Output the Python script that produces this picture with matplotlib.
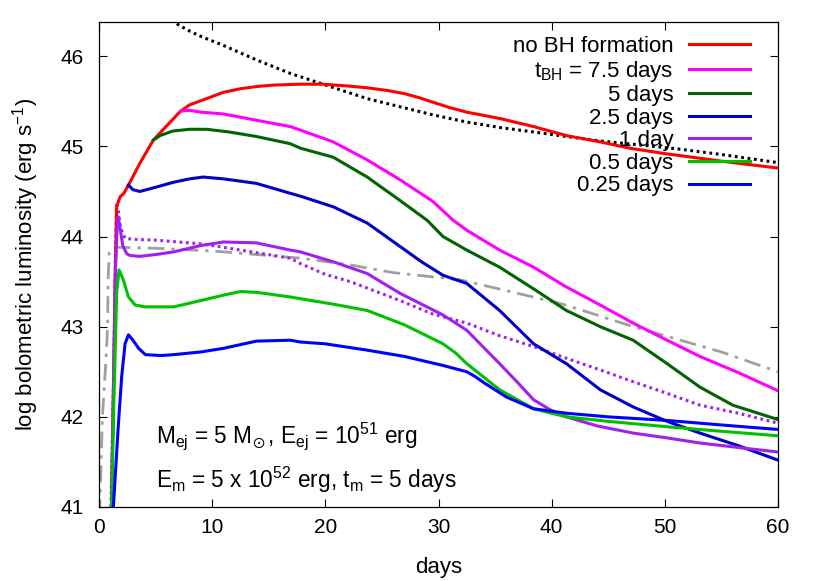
import matplotlib
matplotlib.use("Agg")
import matplotlib.pyplot as plt

plt.rcParams['font.family'] = ['Liberation Sans', 'DejaVu Sans']
plt.rcParams['mathtext.fontset'] = 'custom'
plt.rcParams['mathtext.rm'] = 'Liberation Sans'
plt.rcParams['mathtext.it'] = 'Liberation Sans:italic'
plt.rcParams['mathtext.bf'] = 'Liberation Sans:bold'
plt.rcParams['mathtext.fallback'] = 'stix'

# ---------------- data ----------------
t_red = [1.1, 1.3, 1.45, 1.56, 1.86, 2.2, 2.6, 3.6, 4.8, 6.0, 7.2, 8.0, 9.5, 11.0, 12.5,
         14.0, 15.4, 17.7, 19.8, 22.0, 23.7, 25.5, 27.0, 28.3, 29.5, 31.0, 32.5, 35.4, 38.4,
         41.3, 44.3, 46.9, 50.0, 53.0, 56.0, 60.0]
L_red = [41.0, 42.5, 43.7, 44.33, 44.44, 44.48, 44.57, 44.81, 45.07, 45.23, 45.39, 45.46,
         45.53, 45.60, 45.64, 45.665, 45.68, 45.69, 45.69, 45.67, 45.65, 45.62, 45.585, 45.54,
         45.49, 45.43, 45.38, 45.31, 45.22, 45.12, 45.05, 44.98, 44.92, 44.87, 44.82, 44.76]

t_75 = [7.2, 8.0, 9.0, 11.0, 13.9, 16.9, 17.8, 20.7, 23.7, 26.6, 29.5, 31.3, 32.5, 35.4,
        38.4, 41.3, 44.3, 47.2, 50.2, 53.1, 56.5, 60.0]
L_75 = [45.39, 45.40, 45.38, 45.36, 45.29, 45.22, 45.18, 45.05, 44.85, 44.63, 44.39, 44.18,
        44.07, 43.85, 43.66, 43.44, 43.24, 43.04, 42.85, 42.67, 42.49, 42.29]

t_5 = [4.8, 5.4, 6.5, 8.0, 9.5, 11.5, 13.9, 16.9, 17.8, 20.7, 23.7, 26.6, 29.0, 30.4, 32.5,
       35.4, 38.4, 41.3, 44.3, 47.2, 50.2, 53.1, 56.0, 60.0]
L_5 = [45.07, 45.12, 45.17, 45.19, 45.19, 45.16, 45.11, 45.03, 44.98, 44.88, 44.66, 44.40,
       44.18, 44.00, 43.85, 43.66, 43.42, 43.18, 43.00, 42.85, 42.59, 42.33, 42.13, 41.97]

t_25 = [2.6, 3.0, 3.6, 5.1, 6.5, 8.0, 9.2, 11.0, 13.9, 16.9, 18.0, 20.7, 23.7, 26.6, 28.5,
        30.4, 32.5, 35.4, 38.4, 41.3, 44.3, 47.2, 50.2, 53.1, 56.5, 60.0]
L_25 = [44.57, 44.52, 44.50, 44.55, 44.60, 44.64, 44.66, 44.64, 44.59, 44.48, 44.44, 44.33,
        44.15, 43.89, 43.72, 43.57, 43.48, 43.18, 42.81, 42.59, 42.30, 42.11, 41.95, 41.82,
        41.68, 41.52]

t_1 = [1.1, 1.3, 1.45, 1.6, 1.7, 1.85, 2.1, 2.45, 2.74, 3.6, 5.0, 6.6, 9.0, 11.0, 13.9, 16.9,
       17.8, 20.7, 23.7, 26.6, 28.5, 30.4, 32.5, 35.4, 37.0, 38.4, 39.85, 41.3, 44.0, 47.2,
       50.0, 53.1, 56.5, 60.0]
L_1 = [41.0, 42.5, 43.6, 44.1, 44.22, 44.1, 43.9, 43.81, 43.79, 43.78, 43.80, 43.83, 43.90,
       43.94, 43.93, 43.85, 43.83, 43.72, 43.59, 43.37, 43.25, 43.13, 42.96, 42.59, 42.38,
       42.19, 42.08, 42.00, 41.90, 41.82, 41.77, 41.71, 41.66, 41.61]

t_05 = [1.12, 1.3, 1.41, 1.56, 1.77, 2.15, 2.6, 3.2, 4.1, 6.6, 9.0, 11.0, 12.5, 14.0, 16.9,
        17.8, 20.7, 23.7, 27.0, 30.4, 31.5, 32.5, 35.4, 38.4, 41.3, 45.0, 50.2, 55.0, 60.0]
L_05 = [41.0, 42.1, 42.63, 43.37, 43.63, 43.52, 43.33, 43.24, 43.22, 43.22, 43.29, 43.35,
        43.39, 43.38, 43.33, 43.31, 43.25, 43.18, 43.02, 42.81, 42.71, 42.59, 42.30, 42.09,
        42.00, 41.95, 41.89, 41.84, 41.79]

t_025 = [1.27, 1.7, 2.0, 2.3, 2.6, 3.0, 3.5, 4.1, 5.5, 6.6, 9.0, 11.0, 13.9, 16.9, 17.8,
         20.0, 23.7, 27.0, 30.4, 32.5, 33.2, 34.0, 36.0, 38.4, 41.3, 45.0, 50.2, 55.0, 60.0]
L_025 = [41.0, 41.89, 42.44, 42.81, 42.91, 42.85, 42.76, 42.69, 42.68, 42.69, 42.72, 42.76,
         42.84, 42.85, 42.83, 42.81, 42.74, 42.67, 42.57, 42.50, 42.45, 42.38, 42.22, 42.09,
         42.04, 42.00, 41.96, 41.91, 41.86]

t_dot = [1.05, 1.3, 1.45, 1.55, 1.7, 1.9, 2.3, 3.0, 5.0, 9.0, 13.0, 16.9, 17.8, 20.0, 22.2,
         26.6, 29.5, 32.5, 35.4, 38.4, 41.3, 44.3, 47.2, 50.2, 53.1, 56.5, 60.0]
L_dot = [41.0, 42.5, 43.8, 44.35, 44.3, 44.1, 43.98, 43.97, 43.96, 43.92, 43.84, 43.76,
         43.70, 43.58, 43.50, 43.29, 43.14, 43.04, 42.90, 42.78, 42.65, 42.52, 42.39, 42.26,
         42.13, 42.04, 41.93]

t_gray = [0.05, 0.3, 0.6, 0.76, 0.8, 0.9, 1.2, 2.0, 5.0, 10.0, 14.0, 17.8, 22.0, 26.0, 31.9,
          36.0, 40.7, 44.0, 47.2, 50.0, 55.0, 60.0]
L_gray = [40.9, 42.0, 42.6, 43.0, 43.5, 43.82, 43.88, 43.88, 43.87, 43.84, 43.80, 43.76,
          43.69, 43.60, 43.52, 43.40, 43.26, 43.13, 43.00, 42.90, 42.72, 42.50]

t_mag = [6.0, 7.0, 8.0, 9.0, 10.0, 11.0, 13.9, 16.9, 19.8, 23.7, 26.6, 29.5, 32.5, 35.4, 38.4,
         41.3, 44.3, 47.5, 51.3, 55.0, 60.0]
L_mag = [46.45, 46.35, 46.28, 46.22, 46.17, 46.12, 45.96, 45.81, 45.69, 45.53, 45.44, 45.35,
         45.27, 45.21, 45.16, 45.11, 45.06, 45.02, 44.97, 44.91, 44.82]

labels = ['no BH formation', r't$_{\mathregular{BH}}$ = 7.5 days', '5 days', '2.5 days',
          '1 day', '0.5 days', '0.25 days']
x_ticks = [0, 10, 20, 30, 40, 50, 60]
y_ticks = [41, 42, 43, 44, 45, 46]

# ---------------- figure ----------------
fig = plt.figure(figsize=(8.30, 5.81), dpi=100)
ax = fig.add_axes([99/830, 1-507/581, (778-99)/830, (507-22)/581])

lw = 2.2
ax.plot(t_gray, L_gray, color='#a0a0a0', lw=2.0, dashes=(6, 2.5, 1.2, 2.5))
ax.plot(t_dot, L_dot, color='#a020f0', lw=2.2, dashes=(0.9, 1.2))
ax.plot(t_mag, L_mag, color='black', lw=2.2, dashes=(0.9, 1.2))

h = []
h += ax.plot(t_red, L_red, color='#ff0000', lw=lw)
h += ax.plot(t_75, L_75, color='#ff00ff', lw=lw)
h += ax.plot(t_5, L_5, color='#006400', lw=lw)
h += ax.plot(t_25, L_25, color='#0000c8', lw=lw)
h += ax.plot(t_1, L_1, color='#a020f0', lw=lw)
h += ax.plot(t_05, L_05, color='#00c000', lw=lw)
h += ax.plot(t_025, L_025, color='#0000ff', lw=lw)
for line in ax.get_lines():
    line.set_solid_joinstyle('round')

ax.set_xlim(0, 60)
ax.set_ylim(41, 46.38)
ax.set_xticks(x_ticks)
ax.set_yticks(y_ticks)
ax.tick_params(direction='in', length=5.8, width=0.8, top=True, right=True,
               labelsize=15)
ax.tick_params(axis='x', pad=8)
ax.tick_params(axis='y', pad=11)
for s in ax.spines.values():
    s.set_linewidth(0.9)

ax.set_xlabel('days', fontsize=16, labelpad=14)
ax.set_ylabel(r'log bolometric luminosity (erg s$^{\mathregular{-1}}$)', fontsize=16, labelpad=14)

leg = ax.legend(h, labels, loc='upper right', bbox_to_anchor=(750/830, 1-36/581),
                bbox_transform=fig.transFigure, frameon=False, markerfirst=False,
                fontsize=16, handlelength=2.75, handletextpad=0.7, labelspacing=0.07,
                borderpad=0, borderaxespad=0)
for t in leg.get_texts():
    t.set_ha('right')
leg._legend_box.align = 'right'

ax.text(156/830, 1-443/581,
        r'M$_{\mathregular{ej}}$ = 5 M$_{\!\odot}$, E$_{\mathregular{ej}}$ = 10$^{\mathregular{51}}$ erg',
        transform=fig.transFigure, fontsize=16.3, va='baseline', ha='left')
ax.text(156/830, 1-488/581,
        r'E$_{\mathregular{m}}$ = 5 x 10$^{\mathregular{52}}$ erg, t$_{\mathregular{m}}$ = 5 days',
        transform=fig.transFigure, fontsize=16.3, va='baseline', ha='left')

fig.savefig('out.png', dpi=100)
